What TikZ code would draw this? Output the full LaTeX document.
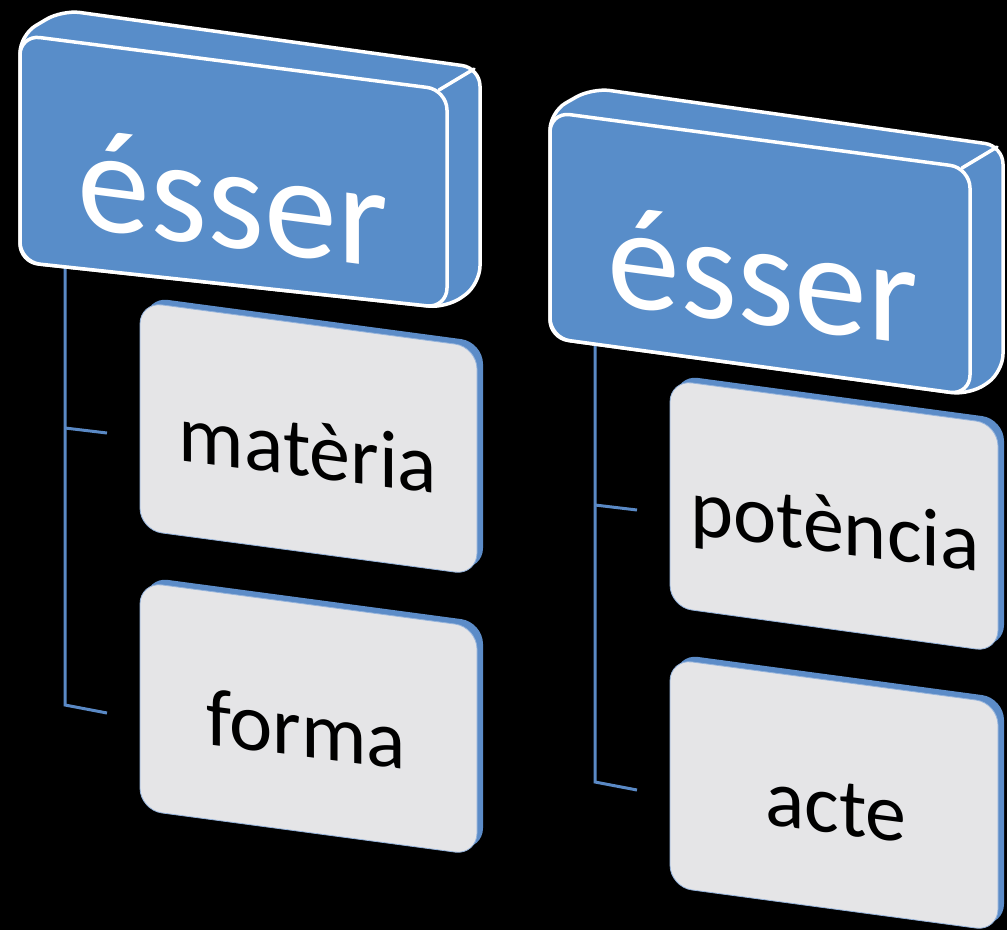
\documentclass[tikz,border=0pt]{standalone}
\usepackage{fontspec}
\setmainfont{Carlito}
\definecolor{hblue}{RGB}{88,141,201}
\definecolor{cblue}{RGB}{92,140,200}
\definecolor{cface}{RGB}{229,229,231}
\definecolor{cedge}{RGB}{150,180,220}
\definecolor{lineblue}{RGB}{90,137,197}
\tikzset{
  hdrhull/.style={fill=hblue, draw=white, line width=3.5pt, rounded corners=18pt, line join=round},
  hdrface/.style={fill=hblue, draw=white, line width=3.5pt, rounded corners=20pt},
  hdredge/.style={draw=white, line width=3.5pt, line cap=round},
  chback/.style={fill=cblue, rounded corners=22pt},
  chface/.style={fill=cface, draw=cedge, line width=0.8pt, rounded corners=22pt},
  conn/.style={draw=lineblue, line width=3pt},
  hdrtext/.style={text=white, font=\fontsize{146}{150}\selectfont, anchor=base, inner sep=0pt, yslant=-0.13, transform shape},
  chtext/.style={text=black, font=\fontsize{82}{86}\selectfont, anchor=base, inner sep=0pt, yslant=-0.13, transform shape}
}
\begin{document}
\begin{tikzpicture}[x=1pt,y=-1pt]
\fill[black] (0,0) rectangle (1007,930);
\useasboundingbox (0,0) rectangle (1007,930);
\clip (0,0) rectangle (1007,930);

% connector coordinates
\coordinate (lA) at (65,262);
\coordinate (lB) at (65,428);
\coordinate (lBe) at (107,433);
\coordinate (lC) at (65,705);
\coordinate (lCe) at (107,713);
\coordinate (rA) at (595,340);
\coordinate (rB) at (595,505);
\coordinate (rBe) at (637,510);
\coordinate (rC) at (595,782);
\coordinate (rCe) at (637,790);

\draw[conn] (lA) -- (lC) -- (lCe);
\draw[conn] (lB) -- (lBe);
\draw[conn] (rA) -- (rC) -- (rCe);
\draw[conn] (rB) -- (rBe);

% left header
\path[hdrhull] (20,262) -- (20,35) -- (62,10) -- (480,68) -- (480,284) -- (447,308) -- cycle;
\path[hdrface] (20,35) -- (447,90) -- (447,308) -- (20,262) -- cycle;
\draw[hdredge] (439,90) -- (474,69);
\node[hdrtext] (h1) at (233,248) {ésser};

% right header
\path[hdrhull] (550,338) -- (550,112) -- (592,88) -- (1003,146) -- (1003,372) -- (970,395) -- cycle;
\path[hdrface] (550,112) -- (970,168) -- (970,395) -- (550,338) -- cycle;
\draw[hdredge] (962,168) -- (997,147);
\node[hdrtext] (h2) at (763,325) {ésser};

% left children
\path[chback] (146,297) -- (483,342) -- (483,570) -- (146,525) -- cycle;
\path[chface] (140,302) -- (477,347) -- (477,575) -- (140,530) -- cycle;
\node[chtext] (c1) at (308,477) {matèria};

\path[chback] (146,577) -- (483,622) -- (483,850) -- (146,805) -- cycle;
\path[chface] (140,582) -- (477,627) -- (477,855) -- (140,810) -- cycle;
\node[chtext] (c2) at (306,757) {forma};

% right children
\path[chback] (676,375) -- (1004,419) -- (1004,647) -- (676,602) -- cycle;
\path[chface] (670,380) -- (998,424) -- (998,652) -- (670,607) -- cycle;
\node[chtext] (c3) at (835,553) {potència};

\path[chback] (676,654) -- (1004,698) -- (1004,926) -- (676,882) -- cycle;
\path[chface] (670,659) -- (998,703) -- (998,931) -- (670,887) -- cycle;
\node[chtext] (c4) at (836,834) {acte};
\end{tikzpicture}
\end{document}
